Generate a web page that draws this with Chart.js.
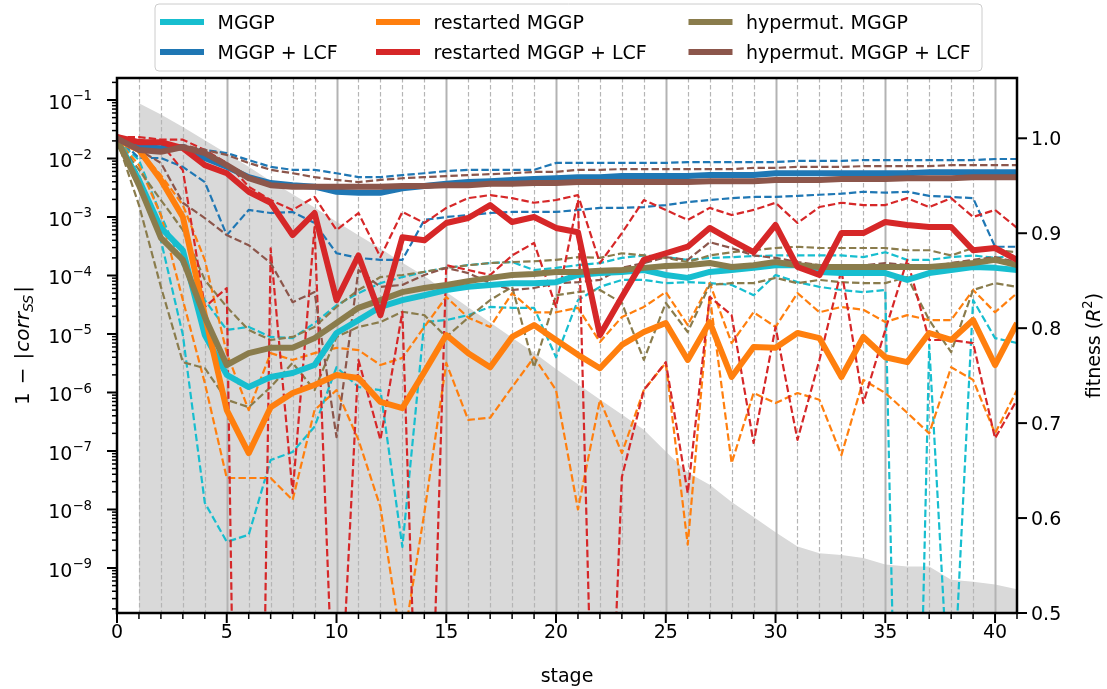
<!DOCTYPE html>
<html><head><meta charset="utf-8">
<script src="https://cdn.jsdelivr.net/npm/chart.js@4.4.1/dist/chart.umd.min.js"></script>
<style>html,body{margin:0;padding:0;background:#fff;}canvas{display:block;}</style>
</head><body>
<canvas id="c" width="1107" height="689"></canvas>
<script>
// ---------- data ----------
const stages = [0,1,2,3,4,5,6,7,8,9,10,11,12,13,14,15,16,17,18,19,20,21,22,23,24,25,26,27,28,29,30,31,32,33,34,35,36,37,38,39,40,41];
const fitnessStages = [1,2,3,4,5,6,7,8,9,10,11,12,13,14,15,16,17,18,19,20,21,22,23,24,25,26,27,28,29,30,31,32,33,34,35,36,37,38,39,40,41];
const fitness = [1.037,1.025,1.012,0.998,0.984,0.970,0.955,0.941,0.927,0.912,0.898,0.884,0.869,0.855,0.838,0.822,0.806,0.790,0.774,0.757,0.741,0.725,0.709,0.693,0.670,0.648,0.635,0.617,0.601,0.585,0.570,0.563,0.561,0.558,0.551,0.549,0.549,0.535,0.533,0.530,0.525];

const mggpMedian = [2.1e-2,4.3e-3,6.5e-4,2.7e-4,9.6e-6,2.0e-6,1.24e-6,1.84e-6,2.15e-6,2.95e-6,1.04e-5,1.73e-5,2.9e-5,3.8e-5,4.6e-5,5.65e-5,6.4e-5,6.9e-5,7.4e-5,7.4e-5,7.7e-5,1.02e-4,1.1e-4,1.15e-4,1.24e-4,1.02e-4,9.1e-5,1.15e-4,1.24e-4,1.35e-4,1.5e-4,1.5e-4,1.15e-4,1.1e-4,1.1e-4,1.1e-4,8.4e-5,1.1e-4,1.24e-4,1.4e-4,1.35e-4,1.24e-4];
const mggpLow = [2.1e-2,5.2e-3,4e-4,9.6e-6,1.3e-8,2.8e-9,3.7e-9,7e-8,9.6e-8,2.6e-7,2.7e-6,1.24e-6,1.1e-6,2.3e-9,1.6e-5,1.73e-5,2.1e-5,2.9e-5,2.8e-5,2.8e-5,4e-6,3.8e-5,6.4e-5,8.4e-5,8.4e-5,7.4e-5,7.7e-5,7.4e-5,6.9e-5,4.6e-5,1.02e-4,7.7e-5,6.4e-5,5.65e-5,5.2e-5,5.65e-5,2.5e-22,6.5e-6,1.1e-12,3.8e-5,8.5e-6,7e-6];
const mggpHigh = [2.1e-2,9.4e-3,1.08e-3,1.5e-4,3.8e-5,1.17e-5,1.32e-5,8.9e-6,8.5e-6,1.54e-5,3.1e-5,5e-5,7.4e-5,9.4e-5,1.15e-4,1.35e-4,1.5e-4,1.63e-4,1.7e-4,1.24e-4,1.35e-4,1.5e-4,1.63e-4,2e-4,2.2e-4,2.06e-4,1.85e-4,2e-4,2.06e-4,2.15e-4,2.2e-4,2.2e-4,2.2e-4,2.2e-4,2.06e-4,2.5e-4,1.85e-4,1.85e-4,2.06e-4,2.2e-4,2e-4,2.2e-4];

const lcfMedian = [2.33e-2,1.57e-2,1.5e-2,1.57e-2,1.02e-2,7.2e-3,4.8e-3,3.8e-3,3.5e-3,3.3e-3,2.7e-3,2.6e-3,2.6e-3,3.1e-3,3.4e-3,3.7e-3,3.95e-3,4.1e-3,4.3e-3,4.45e-3,4.6e-3,4.8e-3,4.8e-3,5e-3,5e-3,5e-3,5e-3,5.2e-3,5.2e-3,5.2e-3,5.6e-3,5.6e-3,5.6e-3,5.6e-3,5.6e-3,5.6e-3,5.6e-3,5.8e-3,5.8e-3,5.8e-3,5.8e-3,5.8e-3];
const lcfLow = [2.33e-2,1.02e-2,1.02e-2,7.2e-3,3.95e-3,4.9e-4,1.32e-3,1.17e-3,1.22e-3,7.9e-4,2.4e-4,2e-4,1.85e-4,1.85e-4,8.9e-4,1e-3,1.08e-3,1.17e-3,1.22e-3,1.22e-3,1.22e-3,1.32e-3,1.43e-3,1.43e-3,1.48e-3,1.6e-3,1.8e-3,1.95e-3,2.1e-3,2.2e-3,2.2e-3,2.3e-3,2.4e-3,2.5e-3,2.7e-3,2.6e-3,2.7e-3,2.3e-3,2.2e-3,2.1e-3,3.1e-4,3.1e-4];
const lcfHigh = [2.33e-2,1.5e-2,1.4e-2,1.57e-2,1.4e-2,1.24e-2,9.4e-3,7.2e-3,6.4e-3,6.4e-3,5.6e-3,4.8e-3,4.8e-3,5.2e-3,5.6e-3,6.1e-3,6.4e-3,6.4e-3,6.4e-3,6.4e-3,8.4e-3,8.4e-3,8.4e-3,8.4e-3,8.4e-3,8.4e-3,8.7e-3,8.7e-3,8.7e-3,8.7e-3,8.7e-3,9.1e-3,9.1e-3,9.1e-3,9.4e-3,9.4e-3,9.4e-3,9.4e-3,9.4e-3,9.4e-3,9.8e-3,9.8e-3];

const restMedian = [2.1e-2,1.4e-2,4.3e-3,1e-3,2.1e-5,5e-7,9.2e-8,5.6e-7,9.8e-7,1.34e-6,1.99e-6,1.77e-6,6.9e-7,5.4e-7,2.24e-6,9.6e-6,4.7e-6,2.7e-6,8.9e-6,1.42e-5,7.9e-6,4.4e-6,2.6e-6,6.5e-6,1.08e-5,1.54e-5,3.6e-6,1.6e-5,1.84e-6,6e-6,5.8e-6,1.04e-5,8.5e-6,1.84e-6,8.9e-6,4e-6,3.3e-6,1.04e-5,7.9e-6,1.73e-5,2.95e-6,1.54e-5];
const restLow = [2.1e-2,7.7e-3,1.08e-3,3.8e-5,1.45e-6,3.45e-8,3.45e-8,3.45e-8,1.45e-8,5e-7,1.1e-6,1.55e-7,1.1e-8,4e-11,8.7e-9,3.2e-6,3.4e-7,3.7e-7,1.24e-6,4e-6,1.1e-6,1e-8,7.5e-7,9.2e-8,1.1e-6,3.2e-6,2.5e-9,4.6e-5,6.2e-8,9.8e-7,6.6e-7,9.8e-7,7.5e-7,8.5e-8,1.64e-6,9.8e-7,4.5e-7,2e-7,2.7e-6,1.64e-6,2e-7,1.1e-6];
const restHigh = [2.1e-2,1.4e-2,5.2e-3,1.6e-3,1.85e-4,4.7e-6,5e-7,4.7e-6,3.6e-6,4.7e-6,5.8e-6,5.3e-6,2.95e-6,3.9e-6,1.32e-5,4.3e-5,1.9e-5,1.32e-5,5e-5,2.35e-5,2.35e-5,2.8e-5,7.3e-6,1.95e-5,2.9e-5,5.2e-5,1.42e-5,7.4e-5,7e-6,2.35e-5,1.32e-5,5e-5,2.35e-5,2.9e-5,2.6e-5,1.6e-5,2.1e-5,1.73e-5,1.73e-5,5.65e-5,2.35e-5,5e-5];

const restLcfMedian = [2.33e-2,1.9e-2,1.9e-2,1.5e-2,7.7e-3,5.6e-3,2.7e-3,1.75e-3,4.9e-4,1.17e-3,3.8e-5,2.2e-4,2.1e-5,4.5e-4,4e-4,7.9e-4,9.6e-4,1.6e-3,8.2e-4,1e-3,6.5e-4,5.5e-4,9.6e-6,4.3e-5,1.85e-4,2.4e-4,3.1e-4,6.5e-4,4e-4,2.5e-4,7.3e-4,1.4e-4,1.02e-4,5.3e-4,5.3e-4,8.2e-4,7.3e-4,6.75e-4,6.75e-4,2.7e-4,2.95e-4,1.85e-4];
const restLcfLow = [2.33e-2,2.1e-2,1.8e-2,6.3e-3,2.9e-5,6.1e-5,2e-29,2.9e-4,1.9e-8,6.7e-4,1.4e-13,3.6e-6,1.55e-7,2.4e-5,1.3e-16,1.5e-4,1.24e-4,1.02e-4,2.2e-4,3.6e-4,2.9e-5,1.95e-3,1.6e-17,3.6e-8,1.1e-6,3.3e-6,1.9e-8,4.3e-5,2.1e-5,1.37e-7,1.32e-5,1.55e-7,3.6e-6,1.24e-4,6.6e-7,1.17e-5,1.85e-4,7.9e-6,7.9e-6,7e-6,1.65e-7,7.5e-7];
const restLcfHigh = [2.33e-2,2.33e-2,2.1e-2,2.1e-2,1.4e-2,8.4e-3,3.3e-3,1.95e-3,1.32e-3,2.2e-3,6e-4,1.17e-3,2.06e-4,1.22e-3,7.9e-4,1.43e-3,2.1e-3,2.37e-3,2.1e-3,1.75e-3,1.95e-3,2.37e-3,1.63e-4,5.3e-4,1.95e-3,1.32e-3,8.9e-4,1.43e-3,1.08e-3,1.32e-3,1.75e-3,7.9e-4,1.48e-3,1.75e-3,1.6e-3,1.6e-3,2.1e-3,1.48e-3,2.1e-3,1e-3,1.32e-3,6.5e-4];

const hyperMedian = [2.1e-2,3.5e-3,4.4e-4,1.85e-4,1.95e-5,2.95e-6,4.7e-6,5.8e-6,5.8e-6,8.5e-6,1.54e-5,2.8e-5,3.8e-5,5.2e-5,6.1e-5,6.9e-5,8e-5,9.1e-5,1.02e-4,1.06e-4,1.15e-4,1.15e-4,1.2e-4,1.24e-4,1.35e-4,1.45e-4,1.5e-4,1.63e-4,1.4e-4,1.5e-4,1.7e-4,1.5e-4,1.4e-4,1.4e-4,1.4e-4,1.4e-4,1.4e-4,1.4e-4,1.5e-4,1.63e-4,1.85e-4,1.5e-4];
const hyperLow = [2.1e-2,1.6e-3,6.4e-5,3.3e-6,2.6e-6,7.5e-7,5.6e-7,1.24e-6,3.2e-6,1.1e-6,8.9e-6,1.32e-5,1.6e-5,2.4e-5,2.1e-5,8.9e-6,1.9e-5,3.8e-5,6.4e-5,2.7e-6,4.6e-5,5.2e-5,5.65e-5,3.4e-5,3.6e-6,3.4e-5,1.08e-5,6.9e-5,7.4e-5,7.4e-5,9.1e-5,7.4e-5,8.4e-5,7.7e-5,7.4e-5,7.4e-5,9.4e-5,1.73e-5,4.9e-6,5.65e-5,7.4e-5,6.4e-5];
const hyperHigh = [2.1e-2,6.4e-3,1.95e-3,6e-4,8.4e-5,2.9e-5,1.17e-5,7.9e-6,8.9e-6,1.32e-5,2.9e-5,5.65e-5,9.4e-5,1.02e-4,1.15e-4,1.35e-4,1.5e-4,1.63e-4,1.7e-4,1.75e-4,1.85e-4,2.06e-4,2e-4,2.4e-4,2.2e-4,2e-4,1.7e-4,2.2e-4,2.5e-4,2.7e-4,2.95e-4,3.1e-4,2.95e-4,2.95e-4,2.95e-4,2.95e-4,2.7e-4,2.7e-4,2.2e-4,2.95e-4,2.7e-4,2.5e-4];

const hyperLcfMedian = [2.2e-2,1.4e-2,1.3e-2,1.57e-2,1.24e-2,7.7e-3,4.6e-3,3.5e-3,3.3e-3,3.3e-3,3.3e-3,3.3e-3,3.3e-3,3.4e-3,3.4e-3,3.5e-3,3.5e-3,3.7e-3,3.7e-3,3.8e-3,3.8e-3,3.95e-3,3.95e-3,3.95e-3,3.95e-3,3.95e-3,3.95e-3,4.1e-3,4.1e-3,4.1e-3,4.3e-3,4.3e-3,4.3e-3,4.45e-3,4.45e-3,4.45e-3,4.6e-3,4.6e-3,4.6e-3,4.8e-3,4.8e-3,4.8e-3];
const hyperLcfLow = [2.2e-2,1.4e-2,8.4e-3,1.75e-3,9.6e-4,4.9e-4,3.3e-4,1.63e-4,3.5e-5,5.2e-5,1.73e-7,1.24e-4,6.4e-5,6.9e-5,1.02e-4,1.35e-4,1.1e-4,7.4e-5,5.65e-5,6.1e-5,7.4e-5,7.7e-5,8.4e-5,1.35e-4,1.63e-4,2.06e-4,1.85e-4,3.7e-4,2.95e-4,2.2e-4,2e-4,1.7e-4,1.5e-4,1.4e-4,1.5e-4,1.63e-4,1.5e-4,1.4e-4,1.63e-4,1.85e-4,2.06e-4,1.7e-4];
const hyperLcfHigh = [2.2e-2,1.7e-2,1.57e-2,1.7e-2,1.4e-2,1.15e-2,8.4e-3,6.4e-3,5.6e-3,4.8e-3,4.3e-3,3.95e-3,4.3e-3,4.6e-3,4.8e-3,5e-3,5.2e-3,5.4e-3,5.6e-3,5.9e-3,5.9e-3,6.4e-3,6.4e-3,6.6e-3,6.6e-3,6.6e-3,6.6e-3,6.6e-3,6.6e-3,6.9e-3,6.9e-3,7.2e-3,7.2e-3,7.2e-3,7.4e-3,7.4e-3,7.4e-3,7.4e-3,7.7e-3,7.7e-3,7.7e-3,7.7e-3];

const seriesNames = ['MGGP','MGGP + LCF','restarted MGGP','restarted MGGP + LCF','hypermut. MGGP','hypermut. MGGP + LCF'];
const xTickValues = [0,5,10,15,20,25,30,35,40];
const xTickLabels = ['0','5','10','15','20','25','30','35','40'];
const yTickExponents = [-1,-2,-3,-4,-5,-6,-7,-8,-9];
const rightTickValues = [0.5,0.6,0.7,0.8,0.9,1.0];
const rightTickLabels = ['0.5','0.6','0.7','0.8','0.9','1.0'];

// ---------- styling ----------
const COLORS = ['#17becf','#1f77b4','#ff7f0e','#d62728','#8a7c4c','#8c564b'];
const SERIES = [
  {med: mggpMedian, lo: mggpLow, hi: mggpHigh},
  {med: lcfMedian, lo: lcfLow, hi: lcfHigh},
  {med: restMedian, lo: restLow, hi: restHigh},
  {med: restLcfMedian, lo: restLcfLow, hi: restLcfHigh},
  {med: hyperMedian, lo: hyperLow, hi: hyperHigh},
  {med: hyperLcfMedian, lo: hyperLcfLow, hi: hyperLcfHigh}
];
const DRAW_ORDER = [0,2,4,1,3,5];
const FONT = '"DejaVu Sans", "Liberation Sans", sans-serif';
const FS = 19;

const pts = arr => stages.map((s,i)=>({x:s, y:arr[i]}));
const layers = [];
layers.push({label:'fitness', isFill:true, data: fitnessStages.map((s,i)=>({x:s,y:fitness[i]})),
  yAxisID:'y2', fill:'start', backgroundColor:'#d9d9d9', borderWidth:0, pointRadius:0, clip:0});
for (const k of DRAW_ORDER) {
  for (const key of ['lo','hi']) {
    layers.push({label: seriesNames[k]+' '+key, data: pts(SERIES[k][key]), yAxisID:'y',
      borderColor: COLORS[k], borderWidth: 2.2, borderDash:[7.4,3.2], borderCapStyle:'butt',
      borderJoinStyle:'round', pointRadius:0, fill:false, clip:0});
  }
}
for (const k of DRAW_ORDER) {
  layers.push({label: seriesNames[k], data: pts(SERIES[k].med), yAxisID:'y',
    borderColor: COLORS[k], borderWidth: 6, borderCapStyle:'butt', borderJoinStyle:'round',
    pointRadius:0, fill:false, clip:0});
}
layers.forEach((d,i)=>{ d.order = layers.length - i; });

function fontStr(p){ return (p.italic?'italic ':'') + (p.size||FS) + 'px ' + FONT; }
function richWidth(ctx, pieces){ let w=0; for(const p of pieces){ ctx.font=fontStr(p); w+=ctx.measureText(p.t).width+(p.gap||0);} return w; }
function drawRich(ctx, pieces, x, baseline, align){
  const w = richWidth(ctx, pieces);
  let cx = align==='right' ? x-w : align==='center' ? x-w/2 : x;
  ctx.textAlign='left'; ctx.textBaseline='alphabetic';
  for (const p of pieces){ ctx.font=fontStr(p); ctx.fillText(p.t, cx, baseline+(p.dy||0)); cx += ctx.measureText(p.t).width+(p.gap||0); }
}

function drawGrid(chart){
  const ctx = chart.ctx, a = chart.chartArea, xs = chart.scales.x;
  ctx.save();
  ctx.beginPath(); ctx.rect(a.left,a.top,a.right-a.left,a.bottom-a.top); ctx.clip();
  for (let s=1; s<=40; s++){
    const x = Math.round(xs.getPixelForValue(s))+0.5;
    ctx.beginPath();
    if (s%5===0){ ctx.setLineDash([]); ctx.lineWidth=2; ctx.strokeStyle='#b3b3b3'; }
    else { ctx.setLineDash([4.5,2.5]); ctx.lineWidth=1.2; ctx.strokeStyle='#b5b5b5'; }
    ctx.moveTo(x,a.top); ctx.lineTo(x,a.bottom); ctx.stroke();
  }
  ctx.restore();
}

const deco = {
  id:'deco',
  afterDatasetDraw(chart, args){
    if (chart.data.datasets[args.index].isFill) drawGrid(chart);
  },
  afterDraw(chart){
    const ctx = chart.ctx, a = chart.chartArea;
    const xs = chart.scales.x, ys = chart.scales.y, y2 = chart.scales.y2;
    ctx.save();
    ctx.fillStyle='#000'; ctx.strokeStyle='#000'; ctx.setLineDash([]);
    ctx.lineWidth=2.5;
    ctx.strokeRect(a.left, a.top, a.right-a.left, a.bottom-a.top);
    for (const s of stages){
      const x = xs.getPixelForValue(s);
      const major = s%5===0;
      ctx.lineWidth = major?2:1.5;
      ctx.beginPath(); ctx.moveTo(x,a.bottom); ctx.lineTo(x,a.bottom+(major?10:6)); ctx.stroke();
    }
    ctx.textAlign='center'; ctx.textBaseline='alphabetic'; ctx.font = FS+'px '+FONT;
    xTickValues.forEach((v,i)=>{ ctx.fillText(xTickLabels[i], xs.getPixelForValue(v), 638); });
    for (let e=-10; e<=-1; e++){
      for (let m=1; m<=9; m++){
        const v = m*Math.pow(10,e);
        if (v < ys.min || v > ys.max) continue;
        const y = ys.getPixelForValue(v);
        ctx.lineWidth = m===1?2:1.5;
        ctx.beginPath(); ctx.moveTo(a.left,y); ctx.lineTo(a.left-(m===1?10:5),y); ctx.stroke();
      }
    }
    yTickExponents.forEach(e=>{
      const y = ys.getPixelForValue(Math.pow(10,e));
      drawRich(ctx, [{t:'10'},{t:'\u2212'+Math.abs(e), size:FS*0.7, dy:-8.5}], 92, y+9, 'right');
    });
    rightTickValues.forEach((v,i)=>{
      const y = y2.getPixelForValue(v);
      ctx.lineWidth=2;
      ctx.beginPath(); ctx.moveTo(a.right,y); ctx.lineTo(a.right+10,y); ctx.stroke();
      ctx.font = FS+'px '+FONT; ctx.textAlign='left'; ctx.textBaseline='alphabetic';
      ctx.fillText(rightTickLabels[i], a.right+14, y+7);
    });
    ctx.font = FS+'px '+FONT; ctx.textAlign='center';
    ctx.fillText('stage', (a.left+a.right)/2, 682);
    ctx.save(); ctx.translate(22, (a.top+a.bottom)/2); ctx.rotate(-Math.PI/2);
    drawRich(ctx, [{t:'1', size:20, gap:8},{t:'\u2212', size:20, gap:8},{t:'|', size:20, gap:1},{t:'corr', italic:true, size:20},{t:'SS', italic:true, size:14, dy:4, gap:2},{t:'|', size:20}], 0, 7, 'center');
    ctx.restore();
    ctx.save(); ctx.translate(1093, (a.top+a.bottom)/2); ctx.rotate(-Math.PI/2);
    drawRich(ctx, [{t:'fitness ('},{t:'R', italic:true},{t:'2', size:FS*0.7, dy:-8},{t:')'}], 0, 7, 'center');
    ctx.restore();
    const L=155, R=982, T=4, B=71, r=4;
    ctx.beginPath();
    ctx.moveTo(L+r,T); ctx.lineTo(R-r,T); ctx.arcTo(R,T,R,T+r,r); ctx.lineTo(R,B-r); ctx.arcTo(R,B,R-r,B,r);
    ctx.lineTo(L+r,B); ctx.arcTo(L,B,L,B-r,r); ctx.lineTo(L,T+r); ctx.arcTo(L,T,L+r,T,r); ctx.closePath();
    ctx.fillStyle='rgba(255,255,255,0.8)'; ctx.fill();
    ctx.lineWidth=1; ctx.strokeStyle='#cccccc'; ctx.stroke();
    const colX = [160, 376, 688.5], rowY = [22, 52];
    for (let k=0; k<6; k++){
      const c = Math.floor(k/2), rr = k%2;
      const hx = colX[c], hy = rowY[rr];
      ctx.strokeStyle = COLORS[k]; ctx.lineWidth = 6; ctx.lineCap='butt';
      ctx.beginPath(); ctx.moveTo(hx,hy); ctx.lineTo(hx+44,hy); ctx.stroke();
      ctx.fillStyle='#000'; ctx.font = FS+'px '+FONT; ctx.textAlign='left';
      ctx.fillText(seriesNames[k], hx+57.5, hy+7);
    }
    ctx.restore();
  }
};

new Chart(document.getElementById('c'), {
  type:'line',
  data:{ datasets: layers },
  options:{
    responsive:false, animation:false, devicePixelRatio:1, events:[],
    layout:{padding:{left:117,right:90,top:78,bottom:76}},
    plugins:{legend:{display:false}, tooltip:{enabled:false}},
    elements:{line:{tension:0}, point:{radius:0}},
    scales:{
      x:{type:'linear', min:0, max:41, display:false},
      y:{type:'logarithmic', min:1.70e-10, max:0.2377, display:false},
      y2:{type:'linear', position:'right', min:0.5, max:1.0635, display:false}
    }
  },
  plugins:[deco]
});
</script>
</body></html>
